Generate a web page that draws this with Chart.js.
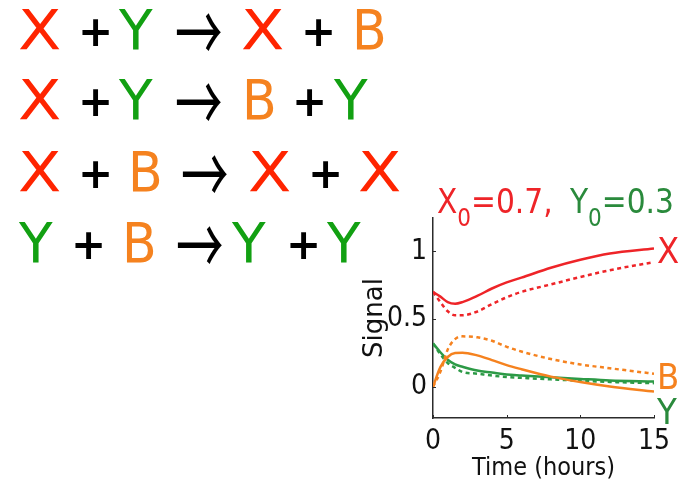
<!DOCTYPE html>
<html>
<head>
<meta charset="utf-8">
<script src="https://cdn.jsdelivr.net/npm/chart.js@4.4.1/dist/chart.umd.min.js"></script>
<style>
  html, body { margin: 0; padding: 0; background: #fff; }
  #wrap { position: relative; width: 688px; height: 488px; overflow: hidden; }
  #plot { position: absolute; left: 0; top: 0; }
  .tok { position: absolute; line-height: 1; font-family: 'DejaVu Sans', sans-serif; white-space: nowrap; }
</style>
</head>
<body>
<div id="wrap">
  <canvas id="plot" width="688" height="488"></canvas>
  <div id="eqs"></div>
</div>
<script>
// ---- reaction scheme ----
const REACTIONS = [
  ['X', '+', 'Y', '→', 'X', '+', 'B'],
  ['X', '+', 'Y', '→', 'B', '+', 'Y'],
  ['X', '+', 'B', '→', 'X', '+', 'X'],
  ['Y', '+', 'B', '→', 'Y', '+', 'Y']
];

// ---- simulated time courses (solid = model, dotted = alternative model) ----
const TIME     = [0, 0.5, 1, 1.5, 2, 3, 4, 5, 6, 8, 10, 12, 15];
const X_SOLID  = [0.70, 0.665, 0.625, 0.613, 0.625, 0.670, 0.725, 0.770, 0.805, 0.878, 0.937, 0.983, 1.020];
const X_DOTTED = [0.70, 0.625, 0.557, 0.527, 0.527, 0.555, 0.610, 0.660, 0.700, 0.755, 0.810, 0.860, 0.920];
const B_SOLID  = [0.00, 0.145, 0.220, 0.250, 0.252, 0.232, 0.197, 0.160, 0.130, 0.075, 0.035, 0.002, -0.035];
const B_DOTTED = [0.00, 0.110, 0.275, 0.352, 0.372, 0.365, 0.340, 0.295, 0.260, 0.205, 0.165, 0.137, 0.096];
const Y_SOLID  = [0.32, 0.255, 0.200, 0.165, 0.148, 0.120, 0.105, 0.090, 0.083, 0.070, 0.058, 0.047, 0.039];
const Y_DOTTED = [0.32, 0.240, 0.175, 0.140, 0.110, 0.097, 0.083, 0.072, 0.066, 0.055, 0.045, 0.036, 0.027];

const X_TICKS = [0, 5, 10, 15];
const Y_TICKS = [0, 0.5, 1];
const X0 = '0.7';
const Y0 = '0.3';

// ---- styling ----
const RED = '#ee2428';
const ORANGE = '#f5821f';
const GREEN = '#2c9a46';
const TITLE_GREEN = '#2a8a3c';
const EQ_COLORS = { X: '#ff2400', Y: '#12a012', B: '#f5821f', '+': '#000', '→': '#000' };
const AXIS_FONT = "'DejaVu Sans Condensed', 'DejaVu Sans', sans-serif";

// layout of the reaction scheme
const ROW_BASELINE = [50, 120, 192, 263];
const TOKEN_LEFT = [
  [20, 82, 120, 177, 243, 305, 357],
  [20, 82, 120, 177, 247, 296, 335],
  [20, 82, 133, 183, 250, 312, 360],
  [20, 75, 127, 178, 233, 290, 328]
];
const TOKEN_STYLE = {
  X: { size: 55, weight: 'normal', shift: -2, sx: 1.15, lift: 0, family: "'DejaVu Sans', sans-serif" },
  Y: { size: 55, weight: 'normal', shift: -1, sx: 1, lift: 0, family: "'DejaVu Sans', sans-serif" },
  B: { size: 55, weight: 'normal', shift: -5, sx: 0.92, lift: 0, family: "'DejaVu Sans', sans-serif" },
  '+': { size: 42, weight: 'bold', shift: -4, sx: 1, lift: 3, family: "'DejaVu Sans', sans-serif" },
  '→': { size: 50, weight: 'normal', shift: -2, sx: 0.95, sy: 1.6, lift: 0, family: "'Noto Sans CJK JP', 'DejaVu Sans', sans-serif" }
};

const eqs = document.getElementById('eqs');
REACTIONS.forEach((row, r) => {
  row.forEach((tok, i) => {
    const st = TOKEN_STYLE[tok];
    const el = document.createElement('span');
    el.className = 'tok';
    el.textContent = tok;
    el.style.fontFamily = st.family;
    el.style.fontSize = st.size + 'px';
    el.style.fontWeight = st.weight;
    el.style.color = EQ_COLORS[tok];
    el.style.left = (TOKEN_LEFT[r][i] + st.shift) + 'px';
    el.style.top = (ROW_BASELINE[r] - 0.846 * st.size - st.lift) + 'px';
    el.style.transformOrigin = '0 70%';
    el.style.transform = 'scale(' + st.sx + ', ' + (st.sy || 1) + ')';
    eqs.appendChild(el);
  });
});

// ---- chart ----
const series = (vals) => TIME.map((t, i) => ({ x: t, y: vals[i] }));
const line = (vals, color, dotted) => ({
  data: series(vals),
  borderColor: color,
  borderWidth: 2.5,
  borderDash: dotted ? [4, 3.5] : [],
  pointRadius: 0,
  fill: false,
  cubicInterpolationMode: 'monotone'
});

const END_LABELS = [
  { text: 'X', color: RED, value: 0.982 },
  { text: 'B', color: ORANGE, value: 0.055 },
  { text: 'Y', color: TITLE_GREEN, value: -0.206 }
];

const decorations = {
  id: 'decorations',
  afterDraw(chart) {
    const { ctx, chartArea: a, scales: { x, y } } = chart;
    ctx.save();
    // small inward tick marks
    ctx.strokeStyle = '#2b2b2b';
    ctx.lineWidth = 1;
    X_TICKS.forEach(v => {
      const px = Math.round(x.getPixelForValue(v)) + 0.5;
      ctx.beginPath(); ctx.moveTo(px, a.bottom); ctx.lineTo(px, a.bottom - 3); ctx.stroke();
    });
    Y_TICKS.forEach(v => {
      const py = Math.round(y.getPixelForValue(v)) + 0.5;
      ctx.beginPath(); ctx.moveTo(a.left, py); ctx.lineTo(a.left + 3, py); ctx.stroke();
    });

    // initial-condition heading
    const big = "33px " + AXIS_FONT;
    const small = "24px " + AXIS_FONT;
    const parts = [
      { t: 'X', f: big, c: RED, dy: 0 },
      { t: '0', f: small, c: RED, dy: 13 },
      { t: '=' + X0 + ',', f: big, c: RED, dy: 0 },
      { t: ' ', f: big, c: RED, dy: 0, extra: 8 },
      { t: 'Y', f: big, c: TITLE_GREEN, dy: 0 },
      { t: '0', f: small, c: TITLE_GREEN, dy: 13 },
      { t: '=' + Y0, f: big, c: TITLE_GREEN, dy: 0 }
    ];
    let cx = 437;
    const base = 213;
    ctx.textBaseline = 'alphabetic';
    ctx.textAlign = 'left';
    parts.forEach(p => {
      ctx.font = p.f;
      ctx.fillStyle = p.c;
      ctx.fillText(p.t, cx, base + p.dy);
      cx += ctx.measureText(p.t).width + (p.extra || 0);
    });

    // species names at the right end of the curves
    ctx.font = "36px " + AXIS_FONT;
    ctx.textBaseline = 'middle';
    END_LABELS.forEach(l => {
      ctx.fillStyle = l.color;
      ctx.fillText(l.text, a.right + 3, y.getPixelForValue(l.value));
    });
    ctx.restore();
  }
};

new Chart(document.getElementById('plot'), {
  type: 'line',
  data: {
    datasets: [
      line(X_SOLID, RED, false),
      line(X_DOTTED, RED, true),
      line(B_SOLID, ORANGE, false),
      line(B_DOTTED, ORANGE, true),
      line(Y_SOLID, GREEN, false),
      line(Y_DOTTED, GREEN, true)
    ]
  },
  options: {
    responsive: false,
    animation: false,
    devicePixelRatio: 1,
    layout: { padding: { left: 353, right: 34, top: 218, bottom: 0 } },
    plugins: { legend: { display: false }, tooltip: { enabled: false } },
    scales: {
      x: {
        type: 'linear',
        min: 0,
        max: 15,
        grid: { display: false, drawTicks: false },
        border: { display: true, color: '#2b2b2b', width: 1.5 },
        afterBuildTicks: s => { s.ticks = X_TICKS.map(v => ({ value: v })); },
        afterFit: s => { s.height = 70; },
        ticks: {
          color: '#111',
          padding: 7,
          maxRotation: 0,
          font: { family: AXIS_FONT, size: 28 },
          callback: v => String(v)
        },
        title: {
          display: true,
          text: 'Time (hours)',
          color: '#111',
          font: { family: AXIS_FONT, size: 25 },
          padding: { top: 0, bottom: 5 }
        }
      },
      y: {
        type: 'linear',
        min: -0.23,
        max: 1.245,
        grid: { display: false, drawTicks: false },
        border: { display: true, color: '#2b2b2b', width: 1.5 },
        afterBuildTicks: s => { s.ticks = Y_TICKS.map(v => ({ value: v })); },
        afterFit: s => { s.width = 80; },
        ticks: {
          color: '#111',
          padding: 6,
          font: { family: AXIS_FONT, size: 28 },
          callback: v => String(v)
        },
        title: {
          display: true,
          text: 'Signal',
          color: '#111',
          font: { family: "'DejaVu Sans', sans-serif", size: 26 },
          padding: { top: 7, bottom: 0 }
        }
      }
    }
  },
  plugins: [decorations]
});
</script>
</body>
</html>
